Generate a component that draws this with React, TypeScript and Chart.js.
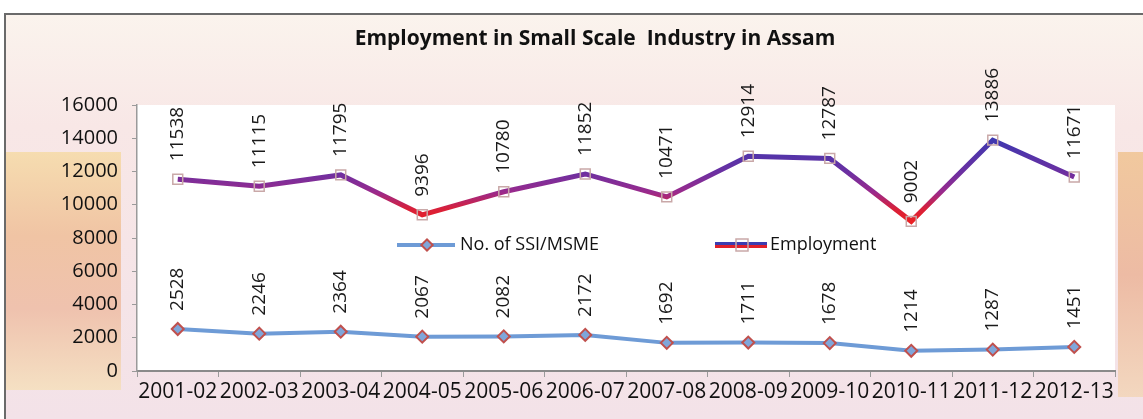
import React, { useEffect, useRef } from 'react';
import { Chart, registerables } from 'chart.js';

Chart.register(...registerables);

const chartTitle = 'Employment in Small Scale  Industry in Assam';
const categories = ['2001-02', '2002-03', '2003-04', '2004-05', '2005-06', '2006-07', '2007-08', '2008-09', '2009-10', '2010-11', '2011-12', '2012-13'];
const ssiName = 'No. of SSI/MSME';
const ssiValues = [2528, 2246, 2364, 2067, 2082, 2172, 1692, 1711, 1678, 1214, 1287, 1451];
const employmentName = 'Employment';
const employmentValues = [11538, 11115, 11795, 9396, 10780, 11852, 10471, 12914, 12787, 9002, 13886, 11671];
const yMin = 0;
const yMax = 16000;
const yStep = 2000;

const FONT = "'Open Sans', 'DejaVu Sans', sans-serif";

const bgPlugin = {
  id: 'bgPlugin',
  beforeDraw(chart: any) {
    const { ctx, width, height, chartArea: a } = chart;
    ctx.save();
    let g = ctx.createLinearGradient(0, 0, 0, height);
    g.addColorStop(0, '#FBF5EE');
    g.addColorStop(0.3, '#F8E7E6');
    g.addColorStop(1, '#F3E2E8');
    ctx.fillStyle = g;
    ctx.fillRect(0, 0, width, height);
    // left strip
    g = ctx.createLinearGradient(0, 150, 0, 395);
    g.addColorStop(0, '#F6DDB0');
    g.addColorStop(0.35, '#F0C4A4');
    g.addColorStop(0.65, '#EFC2AE');
    g.addColorStop(1, '#F5E2C4');
    ctx.fillStyle = g;
    ctx.fillRect(6, 152, a.left - 22, 238);
    // right strip
    g = ctx.createLinearGradient(0, 150, 0, 400);
    g.addColorStop(0, '#F1C99E');
    g.addColorStop(0.5, '#EDBBA4');
    g.addColorStop(1, '#F3D8C0');
    ctx.fillStyle = g;
    ctx.fillRect(a.right + 3, 152, width - a.right - 3, 245);
    // white top and left outside frame
    ctx.fillStyle = '#FFFFFF';
    ctx.fillRect(0, 0, width, 13);
    ctx.fillRect(0, 0, 5, height);
    // plot area
    ctx.fillStyle = '#FFFFFF';
    ctx.fillRect(a.left, a.top, a.right - a.left, a.bottom - a.top);
    // frame
    ctx.strokeStyle = '#6A6A6A';
    ctx.lineWidth = 2;
    ctx.beginPath();
    ctx.moveTo(5, height);
    ctx.lineTo(5, 14);
    ctx.lineTo(width, 14);
    ctx.stroke();
    // title
    ctx.fillStyle = '#111111';
    ctx.font = `bold 21px ${FONT}`;
    ctx.textAlign = 'center';
    ctx.textBaseline = 'middle';
    ctx.fillText(chartTitle, 595, 39);
    ctx.restore();
  },
};

const labelPlugin = {
  id: 'labelPlugin',
  afterDatasetsDraw(chart: any) {
    const { ctx } = chart;
    ctx.save();
    ctx.font = `19px ${FONT}`;
    ctx.fillStyle = '#1A1A1A';
    ctx.textAlign = 'left';
    ctx.textBaseline = 'middle';
    chart.data.datasets.forEach((ds: any, i: number) => {
      const meta = chart.getDatasetMeta(i);
      meta.data.forEach((pt: any, j: number) => {
        ctx.save();
        ctx.translate(pt.x, pt.y - 18);
        ctx.rotate(-Math.PI / 2);
        ctx.fillText(String(ds.data[j]), 0, 0);
        ctx.restore();
      });
    });
    ctx.restore();
  },
};

const legendPlugin = {
  id: 'legendPlugin',
  afterDraw(chart: any) {
    const { ctx } = chart;
    const y = 245;
    ctx.save();
    // SSI
    ctx.strokeStyle = '#6E9BD6';
    ctx.lineWidth = 4;
    ctx.beginPath();
    ctx.moveTo(397, y);
    ctx.lineTo(455, y);
    ctx.stroke();
    ctx.save();
    ctx.translate(427, y);
    ctx.rotate(Math.PI / 4);
    ctx.fillStyle = '#7FA6DA';
    ctx.strokeStyle = '#C0504D';
    ctx.lineWidth = 2;
    ctx.fillRect(-4, -4, 8, 8);
    ctx.strokeRect(-4, -4, 8, 8);
    ctx.restore();
    // Employment
    ctx.fillStyle = '#3C3CB0';
    ctx.fillRect(715, y - 3, 52, 3);
    ctx.fillStyle = '#E0202A';
    ctx.fillRect(715, y, 52, 3);
    ctx.strokeStyle = '#C9A8A8';
    ctx.lineWidth = 1.5;
    ctx.strokeRect(736, y - 6, 12, 12);
    ctx.fillStyle = '#111111';
    ctx.font = `18px ${FONT}`;
    ctx.textAlign = 'left';
    ctx.textBaseline = 'middle';
    ctx.fillText(ssiName, 460, y);
    ctx.fillText(employmentName, 770, y);
    ctx.restore();
  },
};

export default function App() {
  const ref = useRef<HTMLCanvasElement>(null);
  useEffect(() => {
    document.body.style.margin = '0';
    const canvas = ref.current;
    if (!canvas) return;
    const empColor = (c: any) => {
      const ch = c.chart;
      if (!ch.chartArea || !ch.scales.y) return '#7030A0';
      const ys = ch.scales.y;
      const g = ch.ctx.createLinearGradient(0, ys.getPixelForValue(14000), 0, ys.getPixelForValue(9000));
      g.addColorStop(0, '#3D38B0');
      g.addColorStop(0.4, '#6A30A2');
      g.addColorStop(0.65, '#9A2A8C');
      g.addColorStop(0.85, '#D8203A');
      g.addColorStop(1, '#EA2024');
      return g;
    };
    const chart = new Chart(canvas, {
      type: 'line',
      data: {
        labels: categories,
        datasets: [
          {
            label: ssiName,
            data: ssiValues,
            borderColor: '#6E9BD6',
            borderWidth: 4,
            pointStyle: 'rectRot',
            pointRadius: 6,
            pointBorderColor: '#C0504D',
            pointBackgroundColor: '#7FA6DA',
            pointBorderWidth: 2,
            tension: 0,
          },
          {
            label: employmentName,
            data: employmentValues,
            borderColor: empColor,
            borderWidth: 5,
            pointStyle: 'rect',
            pointRadius: 7,
            pointBorderColor: '#C9A8A8',
            pointBackgroundColor: 'rgba(255,255,255,0)',
            pointBorderWidth: 1.5,
            tension: 0,
          },
        ],
      },
      options: {
        animation: false,
        responsive: false,
        layout: { padding: { top: 105, right: 28, left: 0, bottom: 0 } },
        plugins: {
          legend: { display: false },
          tooltip: { enabled: false },
          title: { display: false },
        },
        scales: {
          x: {
            type: 'category',
            offset: true,
            grid: { display: true, offset: true, drawOnChartArea: false, drawTicks: true, tickLength: 6, color: '#9A9A9A' },
            border: { color: '#8A8A8A', width: 2 },
            ticks: { font: { family: FONT, size: 21 }, color: '#111111', padding: 2, maxRotation: 0, autoSkip: false },
            afterFit: (s: any) => { s.height = 48; },
          },
          y: {
            min: yMin,
            max: yMax,
            grid: { display: true, drawOnChartArea: false, drawTicks: true, tickLength: 5, color: '#9A9A9A' },
            border: { color: '#9A9A9A', width: 1.5 },
            ticks: {
              stepSize: yStep,
              font: { family: FONT, size: 20 },
              color: '#111111',
              padding: 14,
              callback: (v: any) => String(v),
            },
            afterFit: (s: any) => { s.width = 137; },
          },
        },
      },
      plugins: [bgPlugin, labelPlugin, legendPlugin],
    });
    return () => chart.destroy();
  }, []);
  return (
    <div style={{ width: 1143, height: 419 }}>
      <canvas ref={ref} width={1143} height={419} style={{ display: 'block' }} />
    </div>
  );
}
